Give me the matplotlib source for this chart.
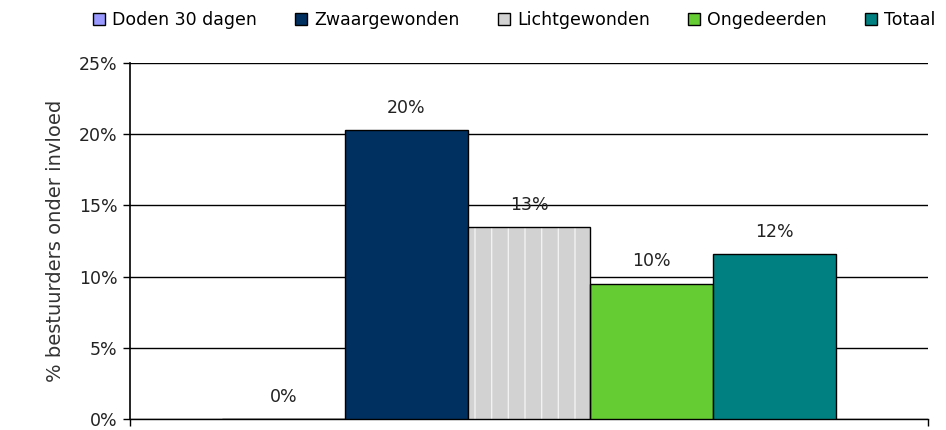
import matplotlib
matplotlib.use("Agg")
import matplotlib.pyplot as plt
from matplotlib.patches import Patch
from matplotlib.ticker import PercentFormatter, FixedLocator

series = ["Doden 30 dagen", "Zwaargewonden", "Lichtgewonden", "Ongedeerden", "Totaal"]
values = [0.0, 20.3, 13.5, 9.5, 11.6]
labels = ["0%", "20%", "13%", "10%", "12%"]
colors = ["#9999FF", "#003060", "#D2D2D2", "#66CC33", "#008080"]
yticks = [0, 5, 10, 15, 20, 25]

plt.rcParams['font.family'] = ['DejaVu Sans']
fig = plt.figure(figsize=(9.46, 4.30), dpi=100)
ax = fig.add_axes([130/946, 11/430, (928-130)/946, (419-63)/430])

n = len(series)
group = 0.77
w = group / n
xs = [-group/2 + w*(i+0.5) for i in range(n)]

for i, (x, v, c, lab) in enumerate(zip(xs, values, colors, labels)):
    if series[i] == "Lichtgewonden":
        ax.bar(x, v, width=w, color=c, edgecolor="#F2F2F2", hatch="|", linewidth=0, zorder=3)
        ax.bar(x, v, width=w, fill=False, edgecolor="black", linewidth=1.0, zorder=4)
    else:
        ax.bar(x, v, width=w, color=c, edgecolor="black", linewidth=1.0, zorder=3)
    ax.annotate(lab, (x, v), xytext=(0, 16), textcoords="offset points",
                ha="center", va="center", fontsize=12.5, color="#222222")

ax.set_xlim(-0.5, 0.5)
ax.set_ylim(0, 25)
ax.yaxis.set_major_locator(FixedLocator(yticks))
ax.yaxis.set_major_formatter(PercentFormatter(decimals=0))
ax.set_xticks([-0.5, 0.5])
ax.set_xticklabels(["", ""])
ax.tick_params(axis="y", length=5, width=1, labelsize=12.5, labelcolor="#222222", pad=4)
ax.tick_params(axis="x", length=5, width=1)
ax.grid(axis="y", color="black", linewidth=1.0, zorder=0)
ax.set_axisbelow(True)
for s in ["top", "right"]:
    ax.spines[s].set_visible(False)
ax.spines["left"].set_linewidth(1.2)
ax.spines["bottom"].set_linewidth(1.0)
ax.set_ylabel("% bestuurders onder invloed", fontsize=14, color="#333333", labelpad=10)

handles = [Patch(facecolor=c, edgecolor="black", linewidth=1.0) for c in colors]
fig.legend(handles, series, loc="center left", bbox_to_anchor=(93/946, 1 - 20/430),
           ncol=n, frameon=False, fontsize=12.5, handlelength=0.7, handleheight=0.7,
           handletextpad=0.4, columnspacing=2.2, borderaxespad=0, borderpad=0)

fig.savefig("out.png", dpi=100)
